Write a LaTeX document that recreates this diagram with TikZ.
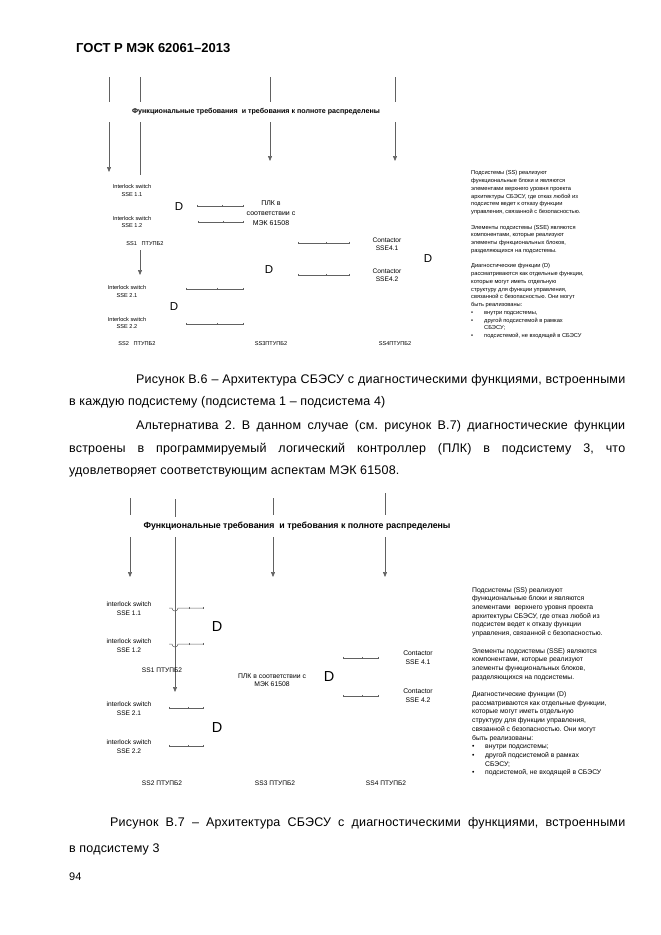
\documentclass[tikz,border=0pt]{standalone}
\usepackage{fontspec}
\setmainfont{Liberation Sans}
\newfontfamily\lsfont{Liberation Sans}[LetterSpace=1.5]
\usetikzlibrary{arrows.meta,decorations.markings}
\begin{document}
\frenchspacing
\begin{tikzpicture}[x=1pt,y=-1pt,
  ln/.style={draw=black!62, line width=0.6pt},
  arr/.style={ln, -{Triangle[width=4pt,length=5pt]}},
  ticked/.style={ln, line width=0.5pt, postaction={decorate},
    decoration={markings,
      mark=at position 0 with {\draw[black!62,line width=0.4pt] (0,-1.2)--(0,1.2);},
      mark=at position 0.55 with {\draw[black!62,line width=0.4pt] (0,-1.2)--(0,1.2);},
      mark=at position 1 with {\draw[black!62,line width=0.4pt] (0,-1.2)--(0,1.2);}}},
  body/.style={inner sep=0, anchor=base west, font=\lsfont\fontsize{12.5}{15}\selectfont},
  ttlA/.style={inner sep=0, font=\bfseries\fontsize{7.1}{8}\selectfont},
  ttlB/.style={inner sep=0, font=\bfseries\fontsize{8.8}{9}\selectfont},
  lblA/.style={inner sep=0, align=center, font=\fontsize{5.6}{7.6}\selectfont},
  lblB/.style={inner sep=0, align=center, font=\fontsize{6.6}{9}\selectfont},
  plcA/.style={inner sep=0, align=center, font=\fontsize{7}{10}\selectfont},
  plcB/.style={inner sep=0, align=center, font=\fontsize{6.8}{8}\selectfont},
  dA/.style={inner sep=0, font=\fontsize{11.5}{12}\selectfont},
  dB/.style={inner sep=0, font=\fontsize{14.5}{15}\selectfont},
  blkA/.style={inner sep=0, anchor=north west, align=left, font=\fontsize{5.7}{7.75}\selectfont},
  blkB/.style={inner sep=0, anchor=north west, align=left, font=\fontsize{6.8}{8.7}\selectfont}
]
\useasboundingbox (0,0) rectangle (661,935);
\fill[white] (0,0) rectangle (661,935);

% header
\node[inner sep=0, anchor=base west, font=\bfseries\fontsize{13}{15}\selectfont] (hdr) at (76,52) {ГОСТ Р МЭК 62061–2013};

% ================= Figure B.6 =================
\node[ttlA] (tA) at (256,112) {Функциональные требования\ \ и требования к полноте распределены};
\foreach \n/\x in {a/109,b/140,c/270,d/395}{
  \coordinate (A\n1) at (\x,77); \coordinate (A\n2) at (\x,102); \coordinate (A\n3) at (\x,122);
}
\coordinate (Aa4) at (109,172); \coordinate (Ab4) at (140,175);
\coordinate (Ac4) at (270,161); \coordinate (Ad4) at (395,161);
\foreach \n in {a,b,c,d}{ \draw[ln] (A\n1) -- (A\n2); }
\draw[arr] (Aa3) -- (Aa4);
\draw[ln] (Ab3) -- (Ab4);
\draw[arr] (Ac3) -- (Ac4);
\draw[arr] (Ad3) -- (Ad4);

\node[lblA] (i11) at (132,190.5) {Interlock switch\\SSE 1.1};
\node[lblA] (i12) at (132,222) {Interlock switch\\SSE 1.2};
\node[lblA] (ss1) at (145,244) {SS1\ \ \ ПТУПБ2};
\coordinate (s1a) at (140,250); \coordinate (s1b) at (140,275);
\draw[arr] (s1a) -- (s1b);
\node[lblA] (i21) at (127,291.5) {Interlock switch\\SSE 2.1};
\node[lblA] (i22) at (127,323) {Interlock switch\\SSE 2.2};
\node[lblA] (ss2) at (137,344) {SS2\ \ \ ПТУПБ2};
\node[lblA] (ss3) at (271,344) {SS3ПТУПБ2};
\node[lblA] (ss4) at (395,344) {SS4ПТУПБ2};

\node[dA] (dA1) at (179,207) {D};
\node[dA] (dA2) at (174,307) {D};
\node[dA] (dA3) at (269,270) {D};
\node[dA] (dA4) at (428,259) {D};

\node[plcA] (plcA) at (271,213) {ПЛК в\\соответствии с\\МЭК 61508};
\node[lblA, font=\fontsize{6.6}{8}\selectfont] (c41) at (387,244) {Contactor\\SSE4.1};
\node[lblA, font=\fontsize{6.6}{8}\selectfont] (c42) at (387,275.5) {Contactor\\SSE4.2};

\coordinate (L1a) at (197,206); \coordinate (L1b) at (243,206);
\coordinate (L2a) at (198,222); \coordinate (L2b) at (243,222);
\coordinate (L3a) at (186,289); \coordinate (L3b) at (243,289);
\coordinate (L4a) at (186,324); \coordinate (L4b) at (243,324);
\coordinate (L5a) at (298,243); \coordinate (L5b) at (349,243);
\coordinate (L6a) at (298,275); \coordinate (L6b) at (349,275);
\foreach \k in {1,...,6}{ \draw[ticked] (L\k a) -- (L\k b); }

\node[blkA] (txtA) at (471,170.5) {Подсистемы (SS) реализуют\\
функциональные блоки и являются\\
элементами верхнего уровня проекта\\
архитектуры СБЭСУ, где отказ любой из\\
подсистем ведет к отказу функции\\
управления, связанной с безопасностью.\\[7.75pt]
Элементы подсистемы (SSE) являются\\
компонентами, которые реализуют\\
элементы функциональных блоков,\\
разделяющихся на подсистемы.\\[7.75pt]
Диагностические функции (D)\\
рассматриваются как отдельные функции,\\
которые могут иметь отдельную\\
структуру для функции управления,\\
связанной с безопасностью. Они могут\\
быть реализованы:\\
\makebox[13pt][l]{\textbullet}внутри подсистемы,\\
\makebox[13pt][l]{\textbullet}другой подсистемой в рамках\\
\hspace*{13pt}СБЭСУ;\\
\makebox[13pt][l]{\textbullet}подсистемой, не входящей в СБЭСУ};

% ================= text =================
\node[body] (p1) at (136,383) {\makebox[489pt][s]{Рисунок В.6 – Архитектура СБЭСУ с диагностическими функциями, встроенными}};
\node[body] (p2) at (69,405.5) {в каждую подсистему (подсистема 1 – подсистема 4)};
\node[body] (p3) at (136,429) {\makebox[489pt][s]{Альтернатива 2. В данном случае (см. рисунок В.7) диагностические функции}};
\node[body] (p4) at (69,452) {\makebox[556pt][s]{встроены в программируемый логический контроллер (ПЛК) в подсистему 3, что}};
\node[body] (p5) at (69,474.5) {удовлетворяет соответствующим аспектам МЭК 61508.};

% ================= Figure B.7 =================
\node[ttlB] (tB) at (297,526) {Функциональные требования\ \ и требования к полноте распределены};
\coordinate (Ba1) at (130,498); \coordinate (Ba2) at (130,515); \coordinate (Ba3) at (130,537); \coordinate (Ba4) at (130,577);
\coordinate (Bb1) at (175,499); \coordinate (Bb2) at (175,517); \coordinate (Bb3) at (175,537); \coordinate (Bb4) at (175,692);
\coordinate (Bc1) at (273,498); \coordinate (Bc2) at (273,515); \coordinate (Bc3) at (273,537); \coordinate (Bc4) at (273,577);
\coordinate (Bd1) at (385,493); \coordinate (Bd2) at (385,515); \coordinate (Bd3) at (385,537); \coordinate (Bd4) at (385,577);
\foreach \n in {a,b,c,d}{ \draw[ln] (B\n1) -- (B\n2); \draw[arr] (B\n3) -- (B\n4); }

\node[lblB] (j11) at (129,608.5) {interlock switch\\SSE 1.1};
\node[lblB] (j12) at (129,645.5) {interlock switch\\SSE 1.2};
\node[lblB] (j21) at (129,708.5) {interlock switch\\SSE 2.1};
\node[lblB] (j22) at (129,746.5) {interlock switch\\SSE 2.2};
\node[lblB] (t1) at (162,670) {SS1 ПТУПБ2};
\node[lblB] (t2) at (162,783) {SS2 ПТУПБ2};
\node[lblB] (t3) at (275,783) {SS3 ПТУПБ2};
\node[lblB] (t4) at (386,783) {SS4 ПТУПБ2};

\node[dB] (dB1) at (217,627) {D};
\node[dB] (dB2) at (217,728) {D};
\node[dB] (dB3) at (329,677) {D};

\node[plcB] (plcB) at (272,680) {ПЛК в соответствии с\\МЭК 61508};
\node[lblB, font=\fontsize{6.8}{9}\selectfont] (k41) at (418,658) {Contactor\\SSE 4.1};
\node[lblB, font=\fontsize{6.8}{9}\selectfont] (k42) at (418,695.5) {Contactor\\SSE 4.2};

\coordinate (H1a) at (169,608); \coordinate (H1b) at (203,608);
\coordinate (H2a) at (169,644); \coordinate (H2b) at (203,644);
\foreach \k in {1,2}{
  \draw[ln, line width=0.5pt] (H\k a) -- ++(3,0) arc[start angle=180, end angle=0, radius=3] -- (H\k b);
  \draw[black!62,line width=0.4pt] (H\k b) ++(0,-1.2) -- ++(0,2.4);
  \draw[black!62,line width=0.4pt] (H\k a) ++(20,-1.2) -- ++(0,2.4);
}
\coordinate (H3a) at (169,708); \coordinate (H3b) at (203,708);
\coordinate (H4a) at (169,746); \coordinate (H4b) at (203,746);
\coordinate (H5a) at (343,658); \coordinate (H5b) at (378,658);
\coordinate (H6a) at (343,696); \coordinate (H6b) at (378,696);
\foreach \k in {3,...,6}{ \draw[ticked] (H\k a) -- (H\k b); }

\node[blkB] (txtB) at (472,587) {Подсистемы (SS) реализуют\\
функциональные блоки и являются\\
элементами\ \ верхнего уровня проекта\\
архитектуры СБЭСУ, где отказ любой из\\
подсистем ведет к отказу функции\\
управления, связанной с безопасностью.\\[8.7pt]
Элементы подсистемы (SSE) являются\\
компонентами, которые реализуют\\
элементы функциональных блоков,\\
разделяющихся на подсистемы.\\[8.7pt]
Диагностические функции (D)\\
рассматриваются как отдельные функции,\\
которые могут иметь отдельную\\
структуру для функции управления,\\
связанной с безопасностью. Они могут\\
быть реализованы:\\
\makebox[13pt][l]{\textbullet}внутри подсистемы;\\
\makebox[13pt][l]{\textbullet}другой подсистемой в рамках\\
\hspace*{13pt}СБЭСУ;\\
\makebox[13pt][l]{\textbullet}подсистемой, не входящей в СБЭСУ};

% captions
\node[body] (p6) at (110,826.5) {\makebox[515pt][s]{Рисунок В.7 – Архитектура СБЭСУ с диагностическими функциями, встроенными}};
\node[body] (p7) at (69,852.5) {в подсистему 3};
\node[body, font=\fontsize{11}{13}\selectfont] (pg) at (69,880) {94};
\end{tikzpicture}
\end{document}
